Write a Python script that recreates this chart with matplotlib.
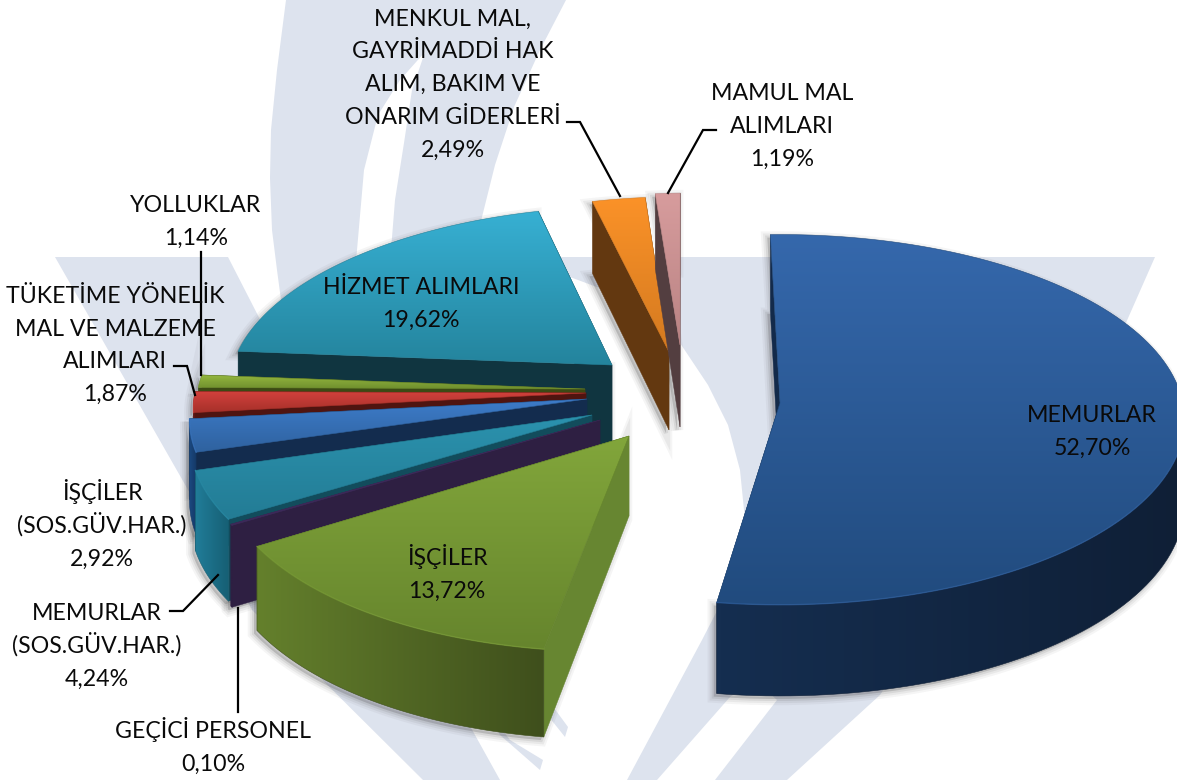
import numpy as np
import matplotlib
matplotlib.use('Agg')
import matplotlib.pyplot as plt
from matplotlib.patches import Polygon
from matplotlib.colors import LinearSegmentedColormap

plt.rcParams['font.family'] = ['Lato', 'DejaVu Sans']

# data, in pie order (clockwise from the top)
categories = ['MEMURLAR', 'İŞÇİLER', 'GEÇİCİ PERSONEL', 'MEMURLAR\n(SOS.GÜV.HAR.)',
              'İŞÇİLER\n(SOS.GÜV.HAR.)', 'TÜKETİME YÖNELİK\nMAL VE MALZEME\nALIMLARI',
              'YOLLUKLAR', 'HİZMET ALIMLARI', 'MENKUL MAL,\nGAYRİMADDİ HAK\nALIM, BAKIM VE\nONARIM GİDERLERİ',
              'MAMUL MAL\nALIMLARI']
shares = [52.70, 13.72, 0.10, 4.24, 2.92, 1.87, 1.14, 19.62, 2.49, 1.19]

# layout of the exploded slices (pixels)
apex_x = [780, 629, 600, 592, 587, 586, 585, 612, 669, 680]
apex_y = [403, 436, 420, 415, 399, 393, 389, 365, 352, 345]
scale_x = [1.02, 1.03, 1.02, 1.01, 1.00, 0.99, 0.98, 0.96, 0.94, 0.92]
scale_y = [1.02, 1.09, 1.04, 1.04, 1.00, 0.99, 0.98, 0.96, 0.94, 0.92]
shear = [0.0, -0.10, -0.10, -0.08, -0.05, 0.0, 0.0, -0.10, -0.07, -0.06]
depth = [83, 80, 78, 78, 80, 78, 78, 80, 78, 82]
draw_order = [7, 8, 9, 0, 6, 5, 4, 3, 2, 1]

top_colors = [('#3568ac', '#214b7e'), ('#82a63b', '#66852d'), ('#3d2a5a', '#3d2a5a'),
              ('#2b92ae', '#237c95'), ('#3d7cca', '#2f629f'), ('#d2413d', '#a63029'),
              ('#96ba3f', '#6f8e2e'), ('#37b0d3', '#24849d'), ('#fb9228', '#d47a20'),
              ('#d79c9d', '#b98383')]
wall_colors = [('#152e50', '#0f1f36'), ('#64802c', '#3f4f1c'), ('#2e1f42', '#2e1f42'),
               ('#217d99', '#165f74'), ('#1c4a82', '#153a68'), ('#7a1f1a', '#5a1612'),
               ('#4c5f1e', '#3c4a14'), ('#103540', '#103540'), ('#5f350f', '#5f350f'),
               ('#533e40', '#533e40')]
face_colors = ['#132a4a', '#678631', '#2e1f42', '#124c5c', '#132c4e', '#4f1410',
               '#3c4a14', '#103540', '#633810', '#533e40']

# label centre and leader line for each slice
label_x = [1092, 447, 213, 97, 102, 115, 196, 421, 453, 782]
label_y = [430, 573, 746, 645, 525, 344, 220, 302, 83, 125]
leader_x = [None, None, [238, 238], [170, 183, 218], None, [174, 187, 195], [201, 201], None,
            [567, 580, 620], [716, 703, 668]]
leader_y = [None, None, [712, 608], [611, 611, 575], None, [366, 366, 395], [252, 375], None,
            [122, 122, 196], [130, 130, 193]]
LINE_STEP = 32.7

# pale logo behind the chart
logo_color = '#dde3ee'
logo_left_x = [55, 228, 450, 500, 423, 252, 203]
logo_left_y = [257, 257, 690, 780, 780, 610, 516]
logo_right_x = [530, 1155, 1125, 880, 787, 715, 777, 755, 730, 657, 627, 702, 738, 745, 740,
                728, 708, 680, 650, 610, 570]
logo_right_y = [257, 257, 325, 695, 780, 780, 700, 680, 697, 780, 780, 640, 570, 520, 470,
                425, 385, 343, 318, 292, 277]
logo_top_x = [286, 566, 540, 514, 495, 479, 460, 385, 391, 395, 404, 412, 425, 400, 378, 364, 357,
              350, 285, 277, 272, 270, 271, 277]
logo_top_y = [0, 0, 50, 107, 165, 229, 330, 330, 250, 200, 143, 90, 52, 80, 115, 170, 250,
              330, 330, 270, 230, 178, 130, 70]
stripe_a_x = [480, 510, 543, 540, 500]
stripe_a_y = [700, 740, 760, 770, 735]
stripe_b_x = [540, 557, 568, 565, 545]
stripe_b_y = [690, 712, 727, 737, 712]

RX, RY, PERSP = 395.0, 180.0, 0.09
START = -1.5


def project(theta, i):
    rad = np.radians(theta)
    z = -np.cos(rad)
    s = 1.0 / (1.0 - PERSP * z)
    dx = RX * scale_x[i] * np.sin(rad) * s
    dy = RY * scale_y[i] * z * s
    return apex_x[i] + dx + shear[i] * dy, apex_y[i] + dy, depth[i] * s


def gradient(ax, pts, c1, c2, vertical=True, zorder=2):
    pts = np.asarray(pts)
    x0, y0 = pts.min(axis=0)
    x1, y1 = pts.max(axis=0)
    cmap = LinearSegmentedColormap.from_list('g', [c1, c2])
    grad = np.linspace(0, 1, 128)
    grad = grad[:, None] if vertical else grad[None, :]
    im = ax.imshow(grad, cmap=cmap, extent=(x0, x1 + 0.01, y1 + 0.01, y0), origin='upper',
                   aspect='auto', zorder=zorder, interpolation='bilinear')
    patch = Polygon(pts, closed=True, transform=ax.transData, fc='none', ec='none')
    ax.add_patch(patch)
    im.set_clip_path(patch)
    # thin edge hides the jagged clip
    ax.add_patch(Polygon(pts, closed=True, fc='none', ec=c2, lw=0.4, zorder=zorder))


fig = plt.figure(figsize=(11.77, 7.8), dpi=100)
ax = fig.add_axes([0, 0, 1, 1])

for xs, ys in [(logo_left_x, logo_left_y), (logo_right_x, logo_right_y), (logo_top_x, logo_top_y),
               (stripe_a_x, stripe_a_y), (stripe_b_x, stripe_b_y)]:
    ax.fill(xs, ys, color=logo_color, lw=0, zorder=0)

edges = START + np.concatenate([[0], np.cumsum(shares)]) * 3.6

# shadows first, they only fall on the background
zo = 1
for i in draw_order:
    th = np.linspace(edges[i], edges[i + 1], 80)
    px, py, pd = project(th, i)
    sil_x = np.concatenate([[apex_x[i]], px, px[::-1], [apex_x[i]]])
    sil_y = np.concatenate([[apex_y[i]], py, py[::-1] + pd[::-1], [apex_y[i] + depth[i]]])
    for lw, a in [(9, 0.05), (6, 0.07), (3, 0.10)]:
        ax.fill(sil_x - 3, sil_y + 3, fc='#444444', ec='#444444', alpha=a, lw=lw, zorder=zo)

zo = 2
for i in draw_order:
    th = np.linspace(edges[i], edges[i + 1], 120)
    px, py, pd = project(th, i)
    ax0, ay0, dp = apex_x[i], apex_y[i], depth[i]

    # cut faces
    for k in (0, -1):
        ax.fill([ax0, px[k], px[k], ax0], [ay0, py[k], py[k] + pd[k], ay0 + dp],
                color=face_colors[i], lw=0.3, zorder=zo)
    zo += 1

    # outer wall, only the part that faces the viewer
    front = (th >= 90) & (th <= 270)
    if front.sum() > 1:
        wx, wy, wd = px[front], py[front], pd[front]
        wall = np.column_stack([np.concatenate([wx, wx[::-1]]),
                                np.concatenate([wy, (wy + wd)[::-1]])])
        gradient(ax, wall, wall_colors[i][0], wall_colors[i][1], vertical=False, zorder=zo)
        zo += 1

    # top
    top = np.column_stack([np.concatenate([[ax0], px]), np.concatenate([[ay0], py])])
    gradient(ax, top, top_colors[i][0], top_colors[i][1], zorder=zo)
    zo += 1
    if front.sum() > 1:
        ax.plot(px[front], py[front], color=top_colors[i][0], lw=1.0, alpha=0.5, zorder=zo)
        zo += 1

zo += 1
for xs, ys in zip(leader_x, leader_y):
    if xs is not None:
        ax.plot(xs, ys, color='black', lw=1.6, solid_joinstyle='miter', zorder=zo)

# one text per line, matplotlib spaces lines with capitals and brackets unevenly
for cat, val, x, y in zip(categories, shares, label_x, label_y):
    lines = cat.split('\n') + [f'{val:.2f}%'.replace('.', ',')]
    for k, line in enumerate(lines):
        base = y + (k - (len(lines) - 1) / 2) * LINE_STEP + 8
        ax.text(x, base, line, ha='center', va='baseline', fontsize=16.7,
                color='#0a0a0a', zorder=zo + 1)

ax.set_xlim(0, 1177)
ax.set_ylim(780, 0)
ax.axis('off')

fig.savefig('out.png', dpi=100)
